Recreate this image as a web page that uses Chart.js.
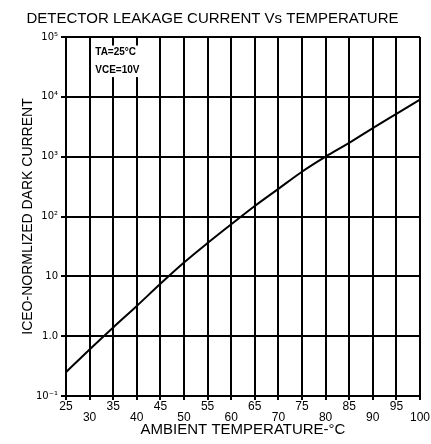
<!DOCTYPE html>
<html>
<head>
<meta charset="utf-8">
<script src="https://cdn.jsdelivr.net/npm/chart.js@4.4.1/dist/chart.umd.min.js"></script>
<style>
  html, body { margin: 0; padding: 0; background: #fff; }
  #wrap { position: relative; width: 431px; height: 444px; }
</style>
</head>
<body>
<div id="wrap"><canvas id="chart"></canvas></div>
<script>
// Ambient temperature (°C) and normalized dark current
const temperatures = [25, 30, 35, 40, 45, 50, 55, 60, 65, 70, 75, 80, 85, 90, 95, 100];
const darkCurrent = [0.25, 0.6, 1.4, 3.2, 7.5, 17, 36, 74, 150, 290, 560, 1000, 1700, 3000, 5200, 9000];

// Axis ticks
const yTicks = [0.1, 1, 10, 100, 1000, 10000, 100000];
const yTickLabels = { 0.1: '10⁻¹', 1: '1.0', 10: '10', 100: '10²', 1000: '10³', 10000: '10⁴', 100000: '10⁵' };

const titleText = 'DETECTOR LEAKAGE CURRENT Vs TEMPERATURE';
const xTitle = 'AMBIENT TEMPERATURE-°C';
const yTitle = 'ICEO-NORMLIZED DARK CURRENT';
const noteLines = ['TA=25°C', 'VCE=10V'];

const FONT = "'Liberation Sans', Arial, sans-serif";
const INK = '#000';

// test conditions, written on a white patch over the grid
const notePlugin = {
  id: 'note',
  afterDraw(chart) {
    const { ctx, scales } = chart;
    const x = scales.x.getPixelForValue(31.2);
    const y1 = scales.y.getPixelForValue(55000);
    const y2 = scales.y.getPixelForValue(28000);
    ctx.save();
    ctx.font = 'bold 10px ' + FONT;
    const w = Math.max(...noteLines.map((s) => ctx.measureText(s).width));
    ctx.fillStyle = '#fff';
    ctx.fillRect(x - 2, y1 - 7, w + 4, y2 - y1 + 14);
    ctx.fillStyle = INK;
    ctx.textBaseline = 'middle';
    ctx.fillText(noteLines[0], x, y1);
    ctx.fillText(noteLines[1], x, y2);
    ctx.restore();
  },
};

new Chart(document.getElementById('chart'), {
  type: 'line',
  data: {
    datasets: [{
      data: temperatures.map((t, i) => ({ x: t, y: darkCurrent[i] })),
      borderColor: INK,
      borderWidth: 2,
      pointRadius: 0,
      cubicInterpolationMode: 'monotone',
      fill: false,
    }],
  },
  options: {
    responsive: true,
    maintainAspectRatio: false,
    animation: false,
    layout: { padding: { top: 0, right: 6, bottom: 0, left: 0 } },
    plugins: {
      legend: { display: false },
      tooltip: { enabled: false },
      title: {
        display: true,
        text: titleText,
        color: INK,
        font: { family: FONT, size: 15, weight: 'normal' },
        padding: { top: 10, bottom: 9 },
      },
    },
    scales: {
      x: {
        type: 'linear',
        min: 25,
        max: 100,
        afterFit(scale) { scale.height = 48; },
        afterBuildTicks(scale) {
          scale.ticks = temperatures.map((v) => ({ value: v }));
        },
        ticks: {
          autoSkip: false,
          maxRotation: 0,
          color: INK,
          padding: 1,
          font: { family: FONT, size: 12, lineHeight: 0.9 },
          callback: (v) => (v % 10 === 0 ? ['', String(v)] : String(v)),
        },
        grid: { color: INK, lineWidth: 2, tickLength: 4 },
        border: { color: INK, width: 2 },
        title: {
          display: true,
          text: xTitle,
          color: INK,
          font: { family: FONT, size: 15 },
          padding: { top: 0, bottom: 5 },
        },
      },
      y: {
        type: 'logarithmic',
        min: 0.1,
        max: 100000,
        afterFit(scale) { scale.width = 66; },
        afterBuildTicks(scale) {
          scale.ticks = yTicks.map((v) => ({ value: v }));
        },
        ticks: {
          color: INK,
          padding: 3,
          font: { family: "'DejaVu Sans', sans-serif", size: 10 },
          callback: (v) => yTickLabels[v] ?? '',
        },
        grid: { color: INK, lineWidth: 2, tickLength: 5 },
        border: { color: INK, width: 2 },
        title: {
          display: true,
          text: yTitle,
          color: INK,
          font: { family: FONT, size: 14 },
          padding: { top: 20, bottom: 0 },
        },
      },
    },
  },
  plugins: [notePlugin],
});
</script>
</body>
</html>
